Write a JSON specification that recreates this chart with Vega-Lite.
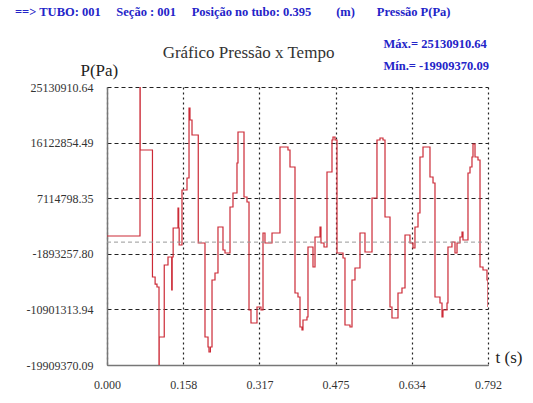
{
  "$schema": "https://vega.github.io/schema/vega-lite/v6.json",
  "width": 381,
  "height": 278,
  "autosize": "none",
  "padding": {"left": 107, "top": 87, "right": 45, "bottom": 38},
  "background": "white",
  "config": {"view": {"stroke": null}, "font": "Liberation Serif"},
  "title": {
    "text": "==> TUBO: 001\u00a0\u00a0\u00a0\u00a0\u00a0Seção : 001\u00a0\u00a0\u00a0\u00a0\u00a0Posição no tubo: 0.395\u00a0\u00a0\u00a0\u00a0\u00a0\u00a0\u00a0\u00a0(m)\u00a0\u00a0\u00a0\u00a0\u00a0\u00a0\u00a0Pressão P(Pa)",
    "anchor": "start",
    "frame": "group",
    "dx": -92,
    "dy": -19,
    "offset": 0,
    "font": "Liberation Serif",
    "fontSize": 12.5,
    "fontWeight": "bold",
    "color": "#2424c8"
  },
  "datasets": {
    "pressure": [
      {"i": 1, "t": 0, "p": 990616},
      {"i": 2, "t": 0.0686, "p": 990616},
      {"i": 3, "t": 0.0686, "p": 25130910.64},
      {"i": 4, "t": 0.069, "p": 14923941},
      {"i": 5, "t": 0.0935, "p": 14923941},
      {"i": 6, "t": 0.0945, "p": -5652015},
      {"i": 7, "t": 0.1, "p": -6800000},
      {"i": 8, "t": 0.1039, "p": -7272169},
      {"i": 9, "t": 0.1081, "p": -7272169},
      {"i": 10, "t": 0.1081, "p": -19909370.09},
      {"i": 11, "t": 0.1085, "p": -15372939},
      {"i": 12, "t": 0.1185, "p": -15372939},
      {"i": 13, "t": 0.119, "p": -3707830},
      {"i": 14, "t": 0.1268, "p": -2411707},
      {"i": 15, "t": 0.134, "p": -2411707},
      {"i": 16, "t": 0.1345, "p": -7758215},
      {"i": 17, "t": 0.1355, "p": -2411707},
      {"i": 18, "t": 0.1372, "p": -2411707},
      {"i": 19, "t": 0.1375, "p": 2286740},
      {"i": 20, "t": 0.1455, "p": 2286740},
      {"i": 21, "t": 0.1476, "p": 5527048},
      {"i": 22, "t": 0.149, "p": 2286740},
      {"i": 23, "t": 0.15, "p": -467522},
      {"i": 24, "t": 0.154, "p": -467522},
      {"i": 25, "t": 0.1559, "p": 8443325},
      {"i": 26, "t": 0.1663, "p": 10387510},
      {"i": 27, "t": 0.1684, "p": 10387510},
      {"i": 28, "t": 0.1705, "p": 21728588},
      {"i": 29, "t": 0.1725, "p": 19784403},
      {"i": 30, "t": 0.1767, "p": 17354172},
      {"i": 31, "t": 0.1892, "p": 17354172},
      {"i": 32, "t": 0.1897, "p": -143491},
      {"i": 33, "t": 0.2016, "p": -143491},
      {"i": 34, "t": 0.2037, "p": -15372939},
      {"i": 35, "t": 0.21, "p": -16993093},
      {"i": 36, "t": 0.212, "p": -17803170},
      {"i": 37, "t": 0.215, "p": -16993093},
      {"i": 38, "t": 0.2183, "p": -6138061},
      {"i": 39, "t": 0.2245, "p": -5003953},
      {"i": 40, "t": 0.2307, "p": 2448755},
      {"i": 41, "t": 0.2391, "p": 2448755},
      {"i": 42, "t": 0.2411, "p": -1277599},
      {"i": 43, "t": 0.2453, "p": -1763645},
      {"i": 44, "t": 0.2557, "p": 5689063},
      {"i": 45, "t": 0.2619, "p": 7957279},
      {"i": 46, "t": 0.2661, "p": 7957279},
      {"i": 47, "t": 0.2702, "p": 12817741},
      {"i": 48, "t": 0.2723, "p": 17840218},
      {"i": 49, "t": 0.2827, "p": 17840218},
      {"i": 50, "t": 0.2848, "p": 7309217},
      {"i": 51, "t": 0.291, "p": 6499140},
      {"i": 52, "t": 0.2952, "p": -10998523},
      {"i": 53, "t": 0.2993, "p": -13104723},
      {"i": 54, "t": 0.3076, "p": -13104723},
      {"i": 55, "t": 0.3118, "p": -10512477},
      {"i": 56, "t": 0.3201, "p": -10998523},
      {"i": 57, "t": 0.3243, "p": 1476663},
      {"i": 58, "t": 0.3284, "p": -143491},
      {"i": 59, "t": 0.3367, "p": -143491},
      {"i": 60, "t": 0.343, "p": 1476663},
      {"i": 61, "t": 0.3534, "p": 1476663},
      {"i": 62, "t": 0.3596, "p": 15409987},
      {"i": 63, "t": 0.3762, "p": 14923941},
      {"i": 64, "t": 0.3804, "p": 12169679},
      {"i": 65, "t": 0.3866, "p": 12169679},
      {"i": 66, "t": 0.3908, "p": -8244261},
      {"i": 67, "t": 0.397, "p": -8892323},
      {"i": 68, "t": 0.4012, "p": -13752785},
      {"i": 69, "t": 0.4053, "p": -14238831},
      {"i": 70, "t": 0.4074, "p": -12618677},
      {"i": 71, "t": 0.4157, "p": -12132631},
      {"i": 72, "t": 0.4178, "p": -791553},
      {"i": 73, "t": 0.4261, "p": -791553},
      {"i": 74, "t": 0.4282, "p": -4031861},
      {"i": 75, "t": 0.4303, "p": -4031861},
      {"i": 76, "t": 0.4324, "p": 828601},
      {"i": 77, "t": 0.4386, "p": 828601},
      {"i": 78, "t": 0.4428, "p": 2448755},
      {"i": 79, "t": 0.4448, "p": -143491},
      {"i": 80, "t": 0.4511, "p": -791553},
      {"i": 81, "t": 0.4573, "p": 11359602},
      {"i": 82, "t": 0.4636, "p": 11359602},
      {"i": 83, "t": 0.4677, "p": 16544095},
      {"i": 84, "t": 0.4698, "p": 17030141},
      {"i": 85, "t": 0.474, "p": 16544095},
      {"i": 86, "t": 0.4781, "p": -1763645},
      {"i": 87, "t": 0.4906, "p": -2573722},
      {"i": 88, "t": 0.4947, "p": -13428754},
      {"i": 89, "t": 0.5051, "p": -13752785},
      {"i": 90, "t": 0.5093, "p": -6138061},
      {"i": 91, "t": 0.5155, "p": -4193876},
      {"i": 92, "t": 0.5259, "p": 1476663},
      {"i": 93, "t": 0.5321, "p": 1476663},
      {"i": 94, "t": 0.5363, "p": -1601630},
      {"i": 95, "t": 0.5467, "p": -1601630},
      {"i": 96, "t": 0.5509, "p": 7147202},
      {"i": 97, "t": 0.5571, "p": 7147202},
      {"i": 98, "t": 0.5612, "p": 16544095},
      {"i": 99, "t": 0.5675, "p": 16868126},
      {"i": 100, "t": 0.5737, "p": 16544095},
      {"i": 101, "t": 0.5779, "p": 4068909},
      {"i": 102, "t": 0.5841, "p": 4068909},
      {"i": 103, "t": 0.5883, "p": -10512477},
      {"i": 104, "t": 0.5924, "p": -12294646},
      {"i": 105, "t": 0.6028, "p": -12294646},
      {"i": 106, "t": 0.6049, "p": -8244261},
      {"i": 107, "t": 0.6132, "p": -7434184},
      {"i": 108, "t": 0.6195, "p": 1152632},
      {"i": 109, "t": 0.6257, "p": 1152632},
      {"i": 110, "t": 0.6298, "p": -143491},
      {"i": 111, "t": 0.6361, "p": -953568},
      {"i": 112, "t": 0.6402, "p": 2448755},
      {"i": 113, "t": 0.6465, "p": 4716971},
      {"i": 114, "t": 0.6506, "p": 13789833},
      {"i": 115, "t": 0.6569, "p": 15409987},
      {"i": 116, "t": 0.6673, "p": 15409987},
      {"i": 117, "t": 0.6714, "p": 10549525},
      {"i": 118, "t": 0.6777, "p": 9577433},
      {"i": 119, "t": 0.6818, "p": -8892323},
      {"i": 120, "t": 0.688, "p": -8892323},
      {"i": 121, "t": 0.6922, "p": -9864415},
      {"i": 122, "t": 0.6964, "p": -12132631},
      {"i": 123, "t": 0.6984, "p": -10998523},
      {"i": 124, "t": 0.7068, "p": -9864415},
      {"i": 125, "t": 0.7088, "p": -791553},
      {"i": 126, "t": 0.7171, "p": 18524},
      {"i": 127, "t": 0.7234, "p": -1763645},
      {"i": 128, "t": 0.7276, "p": -143491},
      {"i": 129, "t": 0.7338, "p": 828601},
      {"i": 130, "t": 0.738, "p": 1638678},
      {"i": 131, "t": 0.74, "p": 342555},
      {"i": 132, "t": 0.7483, "p": 342555},
      {"i": 133, "t": 0.7504, "p": 11197587},
      {"i": 134, "t": 0.7546, "p": 12169679},
      {"i": 135, "t": 0.7587, "p": 13789833},
      {"i": 136, "t": 0.7608, "p": 15900000},
      {"i": 137, "t": 0.765, "p": 13789833},
      {"i": 138, "t": 0.7712, "p": 13303787},
      {"i": 139, "t": 0.7754, "p": -4031861},
      {"i": 140, "t": 0.7816, "p": -4517907},
      {"i": 141, "t": 0.7899, "p": -6138061},
      {"i": 142, "t": 0.792, "p": -10512477}
    ]
  },
  "resolve": {"axis": {"x": "independent", "y": "independent"}},
  "layer": [
    {
      "data": {"name": "pressure"},
      "mark": {"type": "line", "color": "#cc2a36", "strokeWidth": 1.2, "interpolate": "step-after", "clip": true},
      "encoding": {
        "order": {"field": "i", "type": "quantitative"},
        "x": {
          "field": "t",
          "type": "quantitative",
          "scale": {"domain": [0, 0.792], "nice": false, "zero": false},
          "axis": {
            "orient": "bottom",
            "values": [0, 0.1584, 0.3168, 0.4752, 0.6336, 0.792],
            "labelExpr": "format(datum.value, '.3f')",
            "labelFont": "Liberation Serif",
            "labelFontSize": 12,
            "labelColor": "#333",
            "labelPadding": 14,
            "labelFlush": false,
            "ticks": false,
            "domain": true,
            "domainColor": "#777",
            "domainWidth": 1.5,
            "grid": true,
            "gridColor": "#222",
            "gridDash": [2, 3],
            "gridWidth": 1.2,
            "gridOpacity": 1,
            "title": "t (s)",
            "titleX": 388,
            "titleY": -3,
            "titleAlign": "left",
            "titleAnchor": null,
            "titleBaseline": "alphabetic",
            "titleAngle": 0,
            "titleFont": "Liberation Serif",
            "titleFontSize": 17,
            "titleFontWeight": "normal",
            "titleColor": "#222"
          }
        },
        "y": {
          "field": "p",
          "type": "quantitative",
          "scale": {"domain": [-19909370.09, 25130910.64], "nice": false, "zero": false},
          "axis": {
            "orient": "left",
            "values": [-19909370.09, -10901313.94, -1893257.80, 7114798.35, 16122854.49, 25130910.64],
            "labelExpr": "replace(format(datum.value, '.2f'), '\u2212', '-')",
            "labelFont": "Liberation Serif",
            "labelFontSize": 12,
            "labelColor": "#333",
            "labelPadding": 14,
            "labelFlush": false,
            "ticks": false,
            "domain": true,
            "domainColor": "#777",
            "domainWidth": 1.5,
            "grid": true,
            "gridColor": "#222",
            "gridDash": [4, 3],
            "gridWidth": 1.2,
            "gridOpacity": 1,
            "title": "P(Pa)",
            "titleX": -27,
            "titleY": -12,
            "titleAlign": "left",
            "titleAnchor": null,
            "titleBaseline": "alphabetic",
            "titleAngle": 0,
            "titleFont": "Liberation Serif",
            "titleFontSize": 17,
            "titleFontWeight": "normal",
            "titleColor": "#222"
          }
        }
      }
    },
    {
      "data": {"values": [{}]},
      "mark": {"type": "rule", "color": "#999", "strokeDash": [4, 3], "strokeWidth": 1},
      "encoding": {
        "x": {
          "datum": 0,
          "type": "quantitative",
          "axis": {
            "orient": "top",
            "labels": false,
            "ticks": false,
            "domain": false,
            "grid": false,
            "title": "Gráfico Pressão x Tempo",
            "titleX": 141,
            "titleY": -30,
            "titleAlign": "center",
            "titleAnchor": null,
            "titleBaseline": "alphabetic",
            "titleAngle": 0,
            "titleFont": "Liberation Serif",
            "titleFontSize": 17,
            "titleFontWeight": "normal",
            "titleColor": "#333"
          }
        },
        "x2": {"datum": 0.792},
        "y": {
          "datum": 0,
          "type": "quantitative",
          "axis": {
            "orient": "right",
            "labels": false,
            "ticks": false,
            "domain": false,
            "grid": false,
            "title": ["Máx.= 25130910.64", "Mín.= -19909370.09"],
            "titleX": -105,
            "titleY": -40,
            "titleAlign": "left",
            "titleAnchor": null,
            "titleBaseline": "alphabetic",
            "titleAngle": 0,
            "titleLineHeight": 22,
            "titleFont": "Liberation Serif",
            "titleFontSize": 12.5,
            "titleFontWeight": "bold",
            "titleColor": "#2424c8"
          }
        }
      }
    }
  ]
}
